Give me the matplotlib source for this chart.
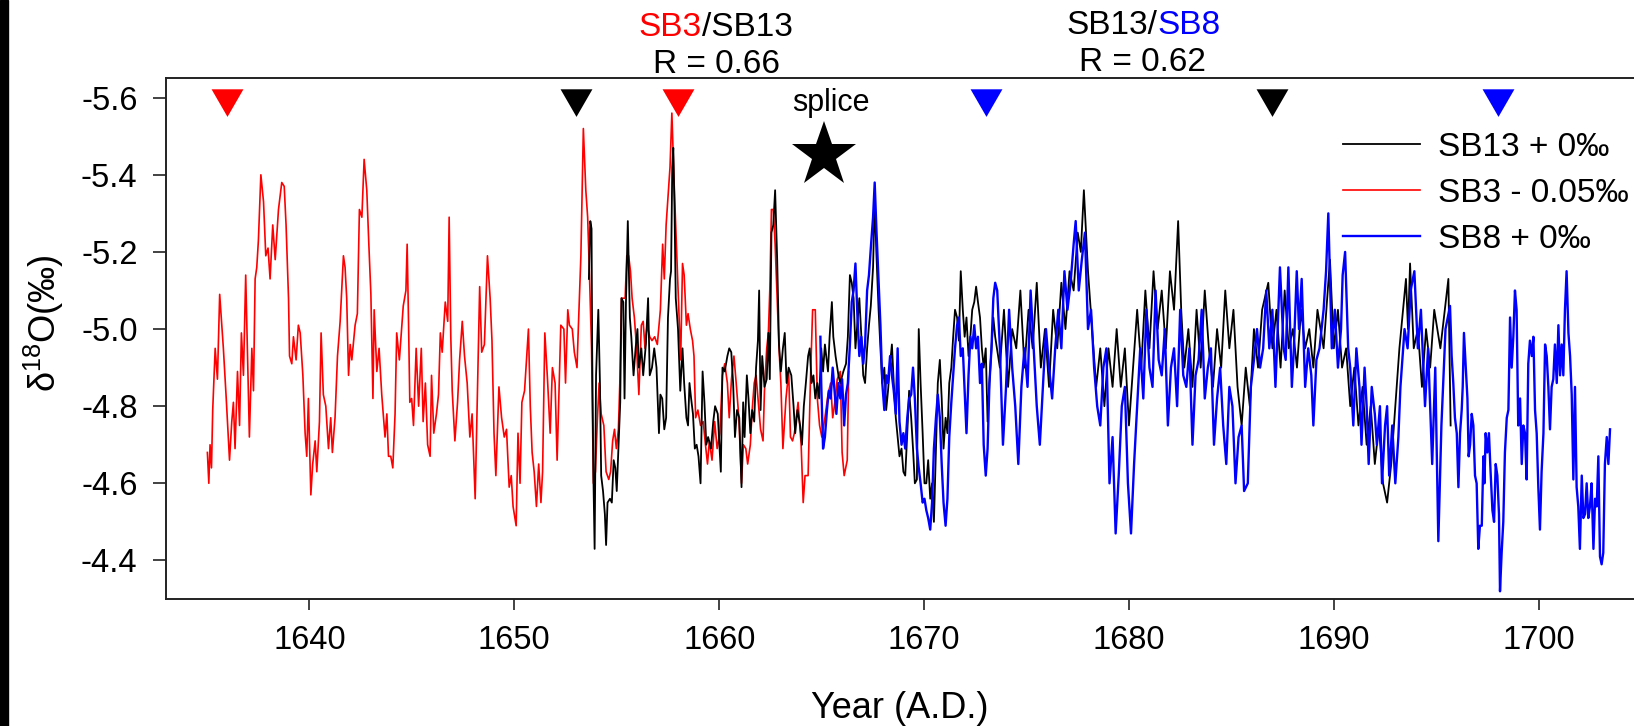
import matplotlib
matplotlib.use("Agg")
import matplotlib.pyplot as plt
from matplotlib.patches import Rectangle

plt.rcParams['font.family'] = ['Liberation Sans', 'DejaVu Sans']
plt.rcParams['mathtext.fontset'] = 'custom'
plt.rcParams['mathtext.rm'] = 'Liberation Sans'
plt.rcParams['axes.unicode_minus'] = False

# ---------------- data ----------------
sb3_year = [1635.02, 1635.09, 1635.15, 1635.22, 1635.28, 1635.40, 1635.51, 1635.62, 1635.80, 1635.94,
            1636.10, 1636.21, 1636.29, 1636.37, 1636.49, 1636.59, 1636.68, 1636.78, 1636.89, 1637.07,
            1637.19, 1637.27, 1637.35, 1637.43, 1637.51, 1637.63, 1637.76, 1637.87, 1637.98, 1638.08,
            1638.21, 1638.33, 1638.49, 1638.65, 1638.77, 1638.86, 1638.98, 1639.03, 1639.14, 1639.22,
            1639.35, 1639.46, 1639.55, 1639.68, 1639.79, 1639.87, 1639.95, 1640.07, 1640.16, 1640.28,
            1640.36, 1640.49, 1640.57, 1640.68, 1640.80, 1640.93, 1641.04, 1641.12, 1641.25, 1641.37,
            1641.50, 1641.66, 1641.74, 1641.82, 1641.91, 1641.99, 1642.07, 1642.23, 1642.34, 1642.44,
            1642.56, 1642.67, 1642.80, 1642.90, 1643.00, 1643.10, 1643.16, 1643.29, 1643.40, 1643.53,
            1643.69, 1643.78, 1643.86, 1643.97, 1644.07, 1644.18, 1644.26, 1644.39, 1644.58, 1644.71,
            1644.77, 1644.84, 1644.90, 1644.99, 1645.08, 1645.21, 1645.33, 1645.46, 1645.55, 1645.66,
            1645.77, 1645.89, 1645.96, 1646.07, 1646.20, 1646.30, 1646.39, 1646.48, 1646.63, 1646.75,
            1646.82, 1646.90, 1646.97, 1647.10, 1647.23, 1647.33, 1647.46, 1647.57, 1647.70, 1647.83,
            1647.94, 1648.09, 1648.20, 1648.31, 1648.41, 1648.54, 1648.69, 1648.82, 1648.91, 1649.01,
            1649.10, 1649.25, 1649.38, 1649.51, 1649.62, 1649.75, 1649.85, 1649.94, 1650.09, 1650.18,
            1650.28, 1650.37, 1650.50, 1650.69, 1650.78, 1650.87, 1650.97, 1651.08, 1651.19, 1651.30,
            1651.38, 1651.49, 1651.62, 1651.75, 1651.86, 1651.99, 1652.09, 1652.18, 1652.27, 1652.42,
            1652.50, 1652.61, 1652.69, 1652.83, 1652.93, 1653.06, 1653.13, 1653.25, 1653.37, 1653.49,
            1653.58, 1653.67, 1653.77, 1653.86, 1653.96, 1654.05, 1654.14, 1654.24, 1654.37, 1654.48,
            1654.61, 1654.70, 1654.80, 1654.89, 1654.98, 1655.08, 1655.15, 1655.23, 1655.30, 1655.41,
            1655.49, 1655.58, 1655.67, 1655.75, 1655.86, 1655.97, 1656.08, 1656.20, 1656.29, 1656.38,
            1656.48, 1656.61, 1656.72, 1656.85, 1656.98, 1657.13, 1657.24, 1657.32, 1657.41, 1657.50,
            1657.60, 1657.69, 1657.80, 1657.92, 1658.03, 1658.12, 1658.21, 1658.29, 1658.40, 1658.48,
            1658.59, 1658.70, 1658.77, 1658.85, 1658.96, 1659.09, 1659.22, 1659.33, 1659.43, 1659.52,
            1659.65, 1659.78, 1659.90, 1660.03, 1660.16, 1660.27, 1660.40, 1660.49, 1660.60, 1660.72,
            1660.83, 1660.96, 1661.09, 1661.18, 1661.30, 1661.39, 1661.52, 1661.61, 1661.71, 1661.80,
            1661.91, 1662.02, 1662.14, 1662.21, 1662.32, 1662.40, 1662.47, 1662.55, 1662.64, 1662.73,
            1662.83, 1662.92, 1663.01, 1663.11, 1663.26, 1663.39, 1663.48, 1663.58, 1663.67, 1663.85,
            1664.00, 1664.10, 1664.19, 1664.34, 1664.45, 1664.56, 1664.69, 1664.79, 1664.90, 1665.01,
            1665.16, 1665.31, 1665.44, 1665.54, 1665.65, 1665.76, 1665.91, 1666.00, 1666.10, 1666.25,
            1666.32]
sb3_d18o = [-4.68, -4.60, -4.70, -4.64, -4.79, -4.95, -4.87, -5.09, -4.95, -4.82,
            -4.66, -4.76, -4.81, -4.69, -4.89, -4.75, -4.99, -4.88, -5.14, -4.72,
            -4.95, -4.84, -5.13, -5.16, -5.23, -5.40, -5.33, -5.19, -5.21, -5.13,
            -5.27, -5.18, -5.31, -5.38, -5.37, -5.27, -5.08, -4.93, -4.91, -4.98,
            -4.92, -5.01, -4.99, -4.88, -4.73, -4.67, -4.82, -4.57, -4.65, -4.71,
            -4.63, -4.76, -4.99, -4.83, -4.80, -4.69, -4.77, -4.68, -4.77, -4.93,
            -5.02, -5.19, -5.16, -5.08, -4.88, -4.96, -4.92, -5.01, -5.04, -5.31,
            -5.29, -5.44, -5.36, -5.22, -5.09, -4.82, -5.05, -4.89, -4.95, -4.83,
            -4.72, -4.78, -4.67, -4.67, -4.64, -4.78, -4.99, -4.92, -5.06, -5.10,
            -5.22, -5.01, -4.81, -4.82, -4.75, -4.95, -4.80, -4.95, -4.76, -4.86,
            -4.70, -4.67, -4.88, -4.73, -4.78, -4.83, -4.99, -4.94, -5.07, -5.02,
            -5.29, -4.98, -4.84, -4.71, -4.81, -4.92, -5.02, -4.93, -4.86, -4.72,
            -4.78, -4.56, -4.84, -5.11, -4.94, -4.96, -5.19, -5.08, -4.97, -4.73,
            -4.62, -4.85, -4.77, -4.72, -4.74, -4.59, -4.62, -4.54, -4.49, -4.73,
            -4.60, -4.81, -4.84, -5.00, -4.80, -4.68, -4.63, -4.54, -4.65, -4.55,
            -4.63, -4.99, -4.87, -4.73, -4.90, -4.86, -4.66, -4.83, -5.01, -5.00,
            -4.86, -5.05, -5.01, -5.00, -4.94, -4.90, -5.01, -5.19, -5.52, -5.36,
            -5.29, -5.14, -4.95, -4.60, -4.63, -4.76, -4.86, -4.78, -4.75, -4.63,
            -4.61, -4.63, -4.71, -4.74, -4.69, -4.74, -4.86, -5.08, -5.08, -5.08,
            -5.19, -5.19, -5.15, -5.08, -5.03, -4.95, -4.83, -5.01, -5.02, -4.95,
            -5.01, -4.98, -4.97, -4.98, -4.96, -5.05, -5.22, -5.13, -5.27, -5.34,
            -5.42, -5.56, -5.38, -5.21, -5.05, -4.92, -5.17, -5.14, -5.01, -5.04,
            -5.00, -4.97, -4.93, -4.77, -4.79, -4.75, -4.76, -4.70, -4.65, -4.71,
            -4.66, -4.76, -4.69, -4.73, -4.88, -4.91, -4.86, -4.77, -4.87, -4.93,
            -4.86, -4.77, -4.60, -4.70, -4.69, -4.65, -4.70, -4.79, -4.86, -4.88,
            -4.81, -4.74, -4.71, -4.84, -4.95, -4.99, -5.10, -5.31, -5.31, -5.22,
            -5.08, -4.95, -4.86, -4.69, -4.82, -4.89, -4.72, -4.71, -4.73, -4.81,
            -4.70, -4.55, -4.62, -4.62, -4.86, -5.05, -5.05, -4.82, -4.75, -4.72,
            -4.77, -4.83, -4.86, -4.77, -4.81, -4.87, -4.89, -4.68, -4.62, -4.66,
            -4.89]

sb13_year = [1653.64, 1653.71, 1653.77, 1653.80, 1653.86, 1653.92, 1653.99, 1654.10, 1654.18, 1654.24,
             1654.33, 1654.42, 1654.48, 1654.55, 1654.67, 1654.76, 1654.85, 1654.93, 1655.00, 1655.08,
             1655.17, 1655.23, 1655.32, 1655.38, 1655.45, 1655.54, 1655.64, 1655.71, 1655.82, 1655.92,
             1656.01, 1656.08, 1656.20, 1656.29, 1656.42, 1656.53, 1656.61, 1656.72, 1656.83, 1656.94,
             1657.06, 1657.13, 1657.22, 1657.32, 1657.41, 1657.50, 1657.60, 1657.65, 1657.71, 1657.76,
             1657.82, 1657.88, 1657.99, 1658.10, 1658.21, 1658.29, 1658.40, 1658.48, 1658.55, 1658.63,
             1658.72, 1658.81, 1658.90, 1658.99, 1659.09, 1659.19, 1659.28, 1659.37, 1659.46, 1659.60,
             1659.71, 1659.80, 1659.93, 1660.08, 1660.16, 1660.27, 1660.40, 1660.49, 1660.59, 1660.68,
             1660.77, 1660.87, 1660.98, 1661.09, 1661.17, 1661.24, 1661.35, 1661.43, 1661.52, 1661.61,
             1661.71, 1661.80, 1661.89, 1661.95, 1662.02, 1662.10, 1662.21, 1662.32, 1662.40, 1662.47,
             1662.55, 1662.64, 1662.73, 1662.83, 1662.92, 1663.01, 1663.11, 1663.20, 1663.29, 1663.39,
             1663.52, 1663.63, 1663.71, 1663.82, 1663.95, 1664.04, 1664.13, 1664.23, 1664.34, 1664.42,
             1664.51, 1664.60, 1664.69, 1664.79, 1664.88, 1664.98, 1665.07, 1665.16, 1665.31, 1665.39,
             1665.50, 1665.57, 1665.68, 1665.82, 1665.91, 1666.06, 1666.19, 1666.28, 1666.38, 1666.47,
             1666.56, 1666.65, 1666.77, 1666.84, 1666.94, 1667.03, 1667.12, 1667.22, 1667.31, 1667.40,
             1667.51, 1667.59, 1667.67, 1667.78, 1667.87, 1667.96, 1668.06, 1668.15, 1668.24, 1668.34,
             1668.43, 1668.52, 1668.62, 1668.71, 1668.80, 1668.90, 1668.99, 1669.08, 1669.18, 1669.27,
             1669.37, 1669.46, 1669.55, 1669.65, 1669.74, 1669.83, 1669.93, 1670.02, 1670.11, 1670.20,
             1670.30, 1670.39, 1670.48, 1670.58, 1670.67, 1670.77, 1670.86, 1670.95, 1671.05, 1671.14,
             1671.23, 1671.33, 1671.42, 1671.51, 1671.61, 1671.70, 1671.79, 1671.89, 1671.98, 1672.07,
             1672.17, 1672.26, 1672.35, 1672.45, 1672.54, 1672.63, 1672.73, 1672.82, 1672.91, 1673.01,
             1673.10, 1673.19, 1673.29, 1673.38, 1673.47, 1673.70, 1673.90, 1674.10, 1674.30, 1674.50,
             1674.70, 1674.90, 1675.10, 1675.30, 1675.50, 1675.70, 1675.90, 1676.10, 1676.30, 1676.50,
             1676.70, 1676.90, 1677.10, 1677.30, 1677.50, 1677.65, 1677.80, 1678.00, 1678.20, 1678.40,
             1678.60, 1678.80, 1679.00, 1679.20, 1679.40, 1679.60, 1679.80, 1680.00, 1680.20, 1680.40,
             1680.60, 1680.80, 1681.00, 1681.20, 1681.40, 1681.60, 1681.80, 1682.00, 1682.20, 1682.40,
             1682.55, 1682.70, 1682.90, 1683.10, 1683.30, 1683.50, 1683.70, 1683.90, 1684.10, 1684.30,
             1684.50, 1684.70, 1684.90, 1685.10, 1685.30, 1685.50, 1685.70, 1685.90, 1686.10, 1686.30,
             1686.50, 1686.80, 1687.00, 1687.20, 1687.40, 1687.60, 1687.80, 1688.00, 1688.20, 1688.40,
             1688.60, 1688.80, 1689.00, 1689.20, 1689.50, 1689.81, 1690.00, 1690.20, 1690.40, 1690.60,
             1690.80, 1691.00, 1691.20, 1691.40, 1691.60, 1691.80, 1692.00, 1692.20, 1692.40, 1692.60,
             1692.80, 1693.00, 1693.20, 1693.52, 1693.62, 1693.72, 1693.90, 1694.10, 1694.30, 1694.50,
             1694.70, 1694.90, 1695.20, 1695.59, 1695.70]
sb13_d18o = [-5.13, -5.28, -5.26, -4.95, -4.62, -4.43, -4.88, -5.05, -4.86, -4.62,
             -4.58, -4.52, -4.44, -4.55, -4.56, -4.55, -4.66, -4.64, -4.58, -4.69,
             -4.81, -5.08, -5.07, -4.82, -5.07, -5.28, -5.03, -4.98, -4.88, -4.95,
             -5.00, -4.90, -4.95, -4.88, -4.96, -5.08, -4.88, -4.90, -4.95, -4.90,
             -4.73, -4.83, -4.82, -4.74, -4.77, -5.03, -5.13, -5.15, -5.42, -5.47,
             -5.31, -5.08, -5.00, -4.84, -4.95, -4.86, -4.77, -4.75, -4.86, -4.82,
             -4.78, -4.69, -4.70, -4.67, -4.60, -4.89, -4.81, -4.70, -4.72, -4.69,
             -4.76, -4.80, -4.78, -4.63, -4.90, -4.89, -4.93, -4.95, -4.94, -4.86,
             -4.72, -4.79, -4.77, -4.59, -4.81, -4.72, -4.88, -4.82, -4.73, -4.79,
             -4.76, -4.90, -4.97, -5.10, -4.79, -4.93, -4.85, -4.87, -4.99, -4.87,
             -5.25, -5.27, -5.36, -5.18, -4.96, -4.89, -4.95, -4.99, -4.86, -4.90,
             -4.88, -4.80, -4.73, -4.79, -4.75, -4.70, -4.80, -4.86, -4.93, -4.95,
             -4.86, -4.88, -4.82, -4.86, -4.82, -4.95, -4.89, -4.96, -4.89, -4.98,
             -5.07, -4.98, -4.93, -4.88, -4.86, -4.89, -4.91, -4.98, -5.14, -5.12,
             -5.08, -4.95, -5.03, -5.08, -4.98, -4.88, -4.86, -4.95, -5.01, -5.06,
             -5.16, -5.34, -5.20, -5.05, -4.95, -4.86, -4.90, -4.79, -4.84, -4.91,
             -4.96, -4.86, -4.77, -4.72, -4.67, -4.69, -4.63, -4.62, -4.73, -4.84,
             -4.77, -4.69, -4.60, -4.61, -5.00, -4.86, -4.73, -4.60, -4.60, -4.66,
             -4.56, -4.60, -4.50, -4.69, -4.86, -4.92, -4.82, -4.69, -4.77, -4.73,
             -4.86, -4.90, -4.98, -5.05, -5.03, -4.97, -5.15, -5.05, -4.98, -5.03,
             -4.93, -4.98, -5.05, -5.07, -5.11, -5.07, -5.03, -4.95, -4.90, -4.95,
             -4.76, -4.86, -4.95, -5.03, -4.98, -4.90, -5.05, -4.85, -5.00, -4.95,
             -5.10, -4.90, -5.05, -4.95, -5.12, -4.90, -5.00, -4.85, -5.05, -4.95,
             -5.12, -5.00, -5.15, -5.10, -5.25, -5.20, -5.36, -5.15, -5.00, -4.85,
             -4.95, -4.80, -4.95, -4.85, -5.00, -4.85, -4.95, -4.75, -4.90, -5.05,
             -4.90, -5.10, -4.95, -5.15, -5.00, -5.10, -4.95, -5.15, -5.05, -5.28,
             -5.05, -4.90, -5.00, -4.85, -5.05, -4.90, -5.10, -4.95, -4.85, -5.00,
             -4.90, -5.10, -4.95, -5.05, -4.85, -4.75, -4.90, -4.80, -5.00, -4.90,
             -5.05, -5.12, -4.95, -5.05, -4.90, -5.10, -4.95, -5.00, -4.90, -5.05,
             -4.95, -5.00, -4.90, -5.05, -4.95, -5.18, -4.95, -5.05, -4.90, -4.95,
             -4.80, -4.90, -4.75, -4.85, -4.70, -4.80, -4.65, -4.75, -4.60, -4.55,
             -4.65, -4.80, -4.95, -5.13, -5.00, -5.17, -4.95, -5.00, -4.85, -5.00,
             -4.90, -5.05, -4.95, -5.13, -4.75]

sb8_year = [1664.94, 1664.98, 1665.07, 1665.16, 1665.26, 1665.35, 1665.44, 1665.54, 1665.63, 1665.72,
            1665.82, 1665.91, 1666.00, 1666.10, 1666.19, 1666.28, 1666.38, 1666.47, 1666.56, 1666.65,
            1666.75, 1666.84, 1666.94, 1667.03, 1667.12, 1667.22, 1667.31, 1667.40, 1667.51, 1667.59,
            1667.68, 1667.78, 1667.87, 1667.96, 1668.06, 1668.15, 1668.24, 1668.34, 1668.43, 1668.52,
            1668.62, 1668.71, 1668.80, 1668.90, 1668.99, 1669.08, 1669.18, 1669.27, 1669.37, 1669.46,
            1669.55, 1669.65, 1669.74, 1669.83, 1669.93, 1670.02, 1670.11, 1670.20, 1670.30, 1670.39,
            1670.48, 1670.58, 1670.67, 1670.77, 1670.86, 1670.95, 1671.05, 1671.14, 1671.23, 1671.33,
            1671.42, 1671.51, 1671.61, 1671.70, 1671.79, 1671.89, 1671.98, 1672.07, 1672.17, 1672.26,
            1672.35, 1672.45, 1672.54, 1672.63, 1672.73, 1672.82, 1672.91, 1673.01, 1673.10, 1673.19,
            1673.29, 1673.38, 1673.47, 1673.57, 1673.70, 1673.85, 1674.00, 1674.15, 1674.30, 1674.45,
            1674.60, 1674.75, 1674.90, 1675.05, 1675.20, 1675.35, 1675.50, 1675.65, 1675.80, 1675.95,
            1676.10, 1676.25, 1676.40, 1676.55, 1676.70, 1676.85, 1677.00, 1677.15, 1677.30, 1677.40,
            1677.55, 1677.70, 1677.85, 1678.00, 1678.15, 1678.30, 1678.45, 1678.60, 1678.75, 1678.90,
            1679.05, 1679.20, 1679.35, 1679.50, 1679.65, 1679.80, 1679.95, 1680.10, 1680.25, 1680.40,
            1680.55, 1680.70, 1680.85, 1681.00, 1681.15, 1681.30, 1681.45, 1681.60, 1681.75, 1681.90,
            1682.05, 1682.20, 1682.35, 1682.50, 1682.65, 1682.80, 1682.95, 1683.10, 1683.25, 1683.40,
            1683.55, 1683.70, 1683.85, 1684.00, 1684.15, 1684.30, 1684.45, 1684.60, 1684.75, 1684.90,
            1685.05, 1685.20, 1685.35, 1685.50, 1685.62, 1685.80, 1685.95, 1686.10, 1686.25, 1686.40,
            1686.55, 1686.70, 1686.85, 1687.00, 1687.15, 1687.37, 1687.55, 1687.65, 1687.78, 1687.95,
            1688.05, 1688.19, 1688.30, 1688.43, 1688.60, 1688.75, 1688.90, 1689.00, 1689.15, 1689.30,
            1689.50, 1689.62, 1689.73, 1689.90, 1690.05, 1690.20, 1690.35, 1690.43, 1690.55, 1690.70,
            1690.80, 1690.95, 1691.10, 1691.25, 1691.35, 1691.50, 1691.60, 1691.70, 1691.85, 1692.00,
            1692.10, 1692.25, 1692.35, 1692.50, 1692.60, 1692.70, 1692.85, 1693.00, 1693.15, 1693.25,
            1693.45, 1693.60, 1693.75, 1693.93, 1694.10, 1694.25, 1694.45, 1694.60, 1694.80, 1694.95,
            1695.10, 1695.25, 1695.45, 1695.67, 1695.75, 1695.83, 1695.91, 1696.00, 1696.08, 1696.16,
            1696.24, 1696.29, 1696.35, 1696.45, 1696.52, 1696.58, 1696.65, 1696.73, 1696.81, 1696.89,
            1696.97, 1697.05, 1697.13, 1697.22, 1697.30, 1697.35, 1697.41, 1697.49, 1697.57, 1697.65,
            1697.74, 1697.82, 1697.90, 1697.98, 1698.06, 1698.11, 1698.19, 1698.27, 1698.35, 1698.44,
            1698.52, 1698.60, 1698.68, 1698.76, 1698.84, 1698.92, 1699.00, 1699.09, 1699.17, 1699.25,
            1699.33, 1699.41, 1699.49, 1699.57, 1699.66, 1699.74, 1699.82, 1699.90, 1699.98, 1700.06,
            1700.14, 1700.23, 1700.31, 1700.39, 1700.47, 1700.55, 1700.63, 1700.71, 1700.79, 1700.88,
            1700.96, 1701.04, 1701.12, 1701.20, 1701.28, 1701.36, 1701.45, 1701.53, 1701.61, 1701.69,
            1701.77, 1701.85, 1701.93, 1702.01, 1702.10, 1702.18, 1702.26, 1702.34, 1702.42, 1702.50,
            1702.58, 1702.67, 1702.75, 1702.83, 1702.91, 1702.99, 1703.07, 1703.15, 1703.23, 1703.32,
            1703.40, 1703.48]
sb8_d18o = [-4.98, -4.86, -4.69, -4.72, -4.79, -4.84, -4.82, -4.90, -4.84, -4.78,
            -4.86, -4.82, -4.87, -4.75, -4.83, -4.86, -4.96, -5.07, -5.10, -5.17,
            -5.03, -4.93, -4.98, -4.91, -4.96, -5.10, -5.14, -5.21, -5.29, -5.38,
            -5.25, -5.12, -5.01, -4.86, -4.79, -4.88, -4.86, -4.93, -4.88, -4.84,
            -4.78, -4.95, -4.76, -4.70, -4.73, -4.69, -4.77, -4.82, -4.83, -4.90,
            -4.82, -4.69, -4.64, -4.60, -4.55, -4.56, -4.53, -4.51, -4.48, -4.55,
            -4.69, -4.77, -4.83, -4.77, -4.65, -4.55, -4.49, -4.56, -4.72, -4.81,
            -4.88, -4.95, -5.01, -5.03, -4.93, -4.95, -4.84, -4.73, -4.88, -4.98,
            -4.95, -5.01, -4.95, -4.98, -4.86, -4.91, -4.70, -4.62, -4.69, -4.86,
            -4.95, -5.08, -5.12, -5.10, -4.95, -4.70, -4.85, -5.05, -4.90, -4.80,
            -4.65, -4.85, -4.95, -4.85, -5.10, -4.95, -4.80, -4.70, -4.85, -5.00,
            -4.90, -4.82, -4.95, -5.05, -4.95, -5.15, -5.05, -5.12, -5.22, -5.28,
            -5.10, -5.18, -5.25, -5.00, -5.05, -4.90, -4.80, -4.75, -4.90, -4.95,
            -4.60, -4.72, -4.47, -4.62, -4.80, -4.85, -4.60, -4.47, -4.65, -4.80,
            -4.95, -4.82, -5.05, -4.90, -4.85, -5.10, -4.92, -4.88, -5.00, -4.75,
            -4.90, -4.95, -4.80, -5.05, -4.88, -4.85, -4.95, -4.70, -4.88, -4.92,
            -5.05, -4.82, -4.90, -4.95, -4.70, -4.82, -4.90, -4.75, -4.65, -4.85,
            -4.80, -4.60, -4.72, -4.75, -4.58, -4.60, -4.85, -4.92, -5.00, -4.90,
            -4.95, -5.10, -4.95, -5.05, -4.85, -5.16, -4.95, -4.92, -5.16, -4.85,
            -4.95, -5.15, -5.00, -5.13, -4.85, -4.95, -4.88, -4.75, -4.92, -4.95,
            -5.05, -5.15, -5.30, -4.95, -5.05, -4.90, -5.00, -5.14, -5.20, -4.95,
            -4.90, -4.75, -4.95, -4.85, -4.70, -4.90, -4.80, -4.65, -4.85, -4.78,
            -4.70, -4.80, -4.60, -4.75, -4.80, -4.62, -4.75, -4.60, -4.72, -4.85,
            -5.00, -4.95, -5.10, -5.15, -4.95, -5.05, -4.80, -4.95, -4.65, -4.90,
            -4.45, -4.75, -5.00, -5.06, -4.93, -4.86, -4.77, -4.73, -4.59, -4.73,
            -4.79, -4.85, -4.99, -4.89, -4.82, -4.67, -4.70, -4.78, -4.75, -4.62,
            -4.60, -4.43, -4.49, -4.49, -4.67, -4.60, -4.73, -4.68, -4.73, -4.63,
            -4.53, -4.50, -4.65, -4.62, -4.52, -4.32, -4.42, -4.50, -4.68, -4.77,
            -4.79, -5.03, -4.90, -4.98, -5.10, -5.05, -4.75, -4.82, -4.65, -4.75,
            -4.73, -4.61, -4.91, -4.97, -4.93, -4.98, -4.79, -4.73, -4.59, -4.48,
            -4.63, -4.73, -4.96, -4.93, -4.85, -4.74, -4.85, -4.87, -4.96, -4.86,
            -5.01, -4.88, -4.96, -4.88, -5.05, -5.15, -4.99, -4.93, -4.83, -4.61,
            -4.85, -4.59, -4.54, -4.43, -4.62, -4.51, -4.52, -4.60, -4.51, -4.54,
            -4.60, -4.43, -4.56, -4.54, -4.67, -4.41, -4.39, -4.42, -4.65, -4.72,
            -4.65, -4.74]

tri_year = [1636.0, 1653.0, 1658.0, 1673.0, 1687.0, 1698.0]
tri_color = ['red', 'black', 'red', 'blue', 'black', 'blue']
splice_year = 1665.14
splice_d18o = -5.451

x_ticks = [1640, 1650, 1660, 1670, 1680, 1690, 1700]
y_ticks = [-5.6, -5.4, -5.2, -5.0, -4.8, -4.6, -4.4]

# ---------------- figure ----------------
W, H = 1634, 726
fig = plt.figure(figsize=(W / 100, H / 100), dpi=100)
fig.patches.append(Rectangle((0, 0), 8 / W, 1, transform=fig.transFigure,
                             color='black', zorder=0))

L, T, B = 166, 78, 599
ax = fig.add_axes([L / W, 1 - B / H, 1 - L / W, (B - T) / H])
ax.set_xlim(1633.0, 1704.65)
ax.set_ylim(-4.3, -5.651)

ax.plot(sb3_year, sb3_d18o, color='#ff0000', lw=1.2, label='SB3 - 0.05‰', zorder=2)
ax.plot(sb13_year, sb13_d18o, color='black', lw=1.3, label='SB13 + 0‰', zorder=3)
ax.plot(sb8_year, sb8_d18o, color='#0000ff', lw=1.7, label='SB8 + 0‰', zorder=4)

for yr, c in zip(tri_year, tri_color):
    ax.plot([yr], [-5.6], marker=(3, 0, 180), markersize=26.5, color=c,
            markeredgewidth=0, linestyle='none', zorder=5, clip_on=False)
ax.plot([splice_year], [splice_d18o], marker='*', markersize=49, color='black',
        markeredgewidth=0, linestyle='none', zorder=5)

ax.spines['right'].set_visible(False)
for s in ['left', 'bottom', 'top']:
    ax.spines[s].set_linewidth(1.4)
    ax.spines[s].set_color('#222222')

ax.set_xticks(x_ticks)
ax.set_xticklabels([str(v) for v in x_ticks])
ax.set_yticks(y_ticks)
ax.set_yticklabels(['%.1f' % v for v in y_ticks])
ax.tick_params(axis='x', length=8, width=1.2, pad=11, labelsize=23.5, color='#222222')
ax.tick_params(axis='y', length=9.5, width=1.2, pad=11, labelsize=23.5, color='#222222')

ax.set_xlabel('Year (A.D.)', fontsize=26, labelpad=25)
fig.text(44 / W, 1 - 323 / H, 'δ$^{18}$O(‰)', rotation=90, fontsize=26,
         ha='center', va='center')

# header annotations (two-colour text)
def px(x, y):
    return x / W, 1 - y / H

fs = 24
fig.text(*px(702, 36), 'SB3', color='#ff0000', fontsize=fs, ha='right', va='baseline')
fig.text(*px(702, 36), '/SB13', color='black', fontsize=fs, ha='left', va='baseline')
fig.text(*px(716.7, 73), 'R = 0.66', color='black', fontsize=fs, ha='center', va='baseline')
fig.text(*px(1157, 34), 'SB13/', color='black', fontsize=fs, ha='right', va='baseline')
fig.text(*px(1157, 34), 'SB8', color='#0000ff', fontsize=fs, ha='left', va='baseline')
fig.text(*px(1142.5, 71), 'R = 0.62', color='black', fontsize=fs, ha='center', va='baseline')
fig.text(*px(830.8, 110.7), 'splice', color='black', fontsize=22, ha='center', va='baseline')

handles, labels = ax.get_legend_handles_labels()
order = [1, 0, 2]
ax.legend([handles[i] for i in order], [labels[i] for i in order],
          loc='upper left', bbox_to_anchor=px(1343, 132), bbox_transform=fig.transFigure,
          frameon=False, fontsize=24, handlelength=2.3, handletextpad=0.55,
          labelspacing=0.45, borderpad=0, borderaxespad=0)

fig.savefig('out.png', dpi=100)
